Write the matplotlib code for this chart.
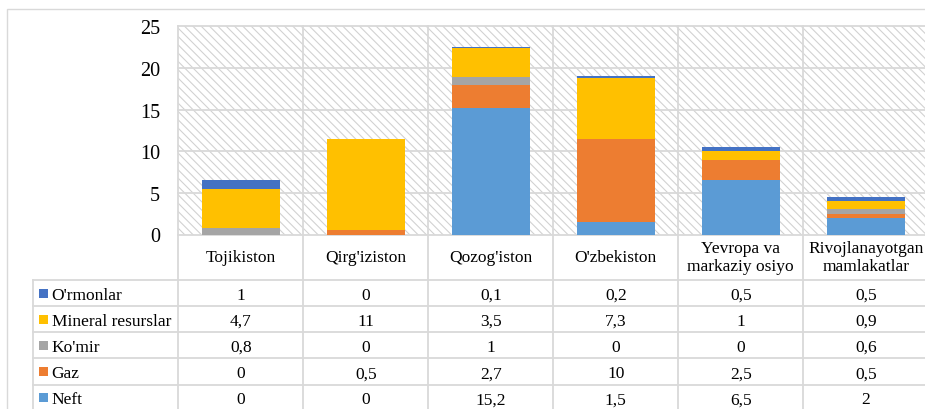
import matplotlib
matplotlib.use('Agg')
import matplotlib.pyplot as plt
from matplotlib.patches import Rectangle
from matplotlib.lines import Line2D
from matplotlib.transforms import blended_transform_factory
import numpy as np

categories = ["Tojikiston", "Qirg'iziston", "Qozog'iston", "O'zbekiston",
              "Yevropa va\nmarkaziy osiyo", "Rivojlanayotgan\nmamlakatlar"]
series_names = ["Neft", "Gaz", "Ko'mir", "Mineral resurslar", "O'rmonlar"]
neft = [0, 0, 15.2, 1.5, 6.5, 2]
gaz = [0, 0.5, 2.7, 10, 2.5, 0.5]
komir = [0.8, 0, 1, 0, 0, 0.6]
mineral = [4.7, 11, 3.5, 7.3, 1, 0.9]
ormonlar = [1, 0, 0.1, 0.2, 0.5, 0.5]
series_values = [neft, gaz, komir, mineral, ormonlar]
colors = ['#5B9BD5', '#ED7D31', '#A5A5A5', '#FFC000', '#4472C4']
y_ticks = [0, 5, 10, 15, 20, 25]

plt.rcParams['font.family'] = ['Liberation Serif', 'DejaVu Serif']
plt.rcParams['hatch.linewidth'] = 0.8

W, H = 925, 410
fig = plt.figure(figsize=(W / 100, H / 100), dpi=100)


def fx(px):
    return px / W


def fy(py):
    return 1 - py / H


grid_c = '#d9d9d9'
top_px, zero_px, left_px = 27.3, 235.5, 178.3
cat_w = 125.0
ax = fig.add_axes([fx(left_px), fy(zero_px), len(categories) * cat_w / W,
                   (zero_px - top_px) / H])
ax.set_xlim(-0.5, len(categories) - 0.5)
ax.set_ylim(0, 25)
for s in ax.spines.values():
    s.set_visible(False)
ax.set_xticks([])
ax.set_yticks(y_ticks)
ax.tick_params(axis='y', length=0, pad=13, labelsize=14.5, colors='black')

# hatched plot background
ax.add_patch(Rectangle((0, 0), 1, 1, transform=ax.transAxes, facecolor='white',
                       edgecolor='#d2d2d2', hatch='\\\\\\\\', lw=0, zorder=0.1))
for t in y_ticks:
    ax.axhline(t, color=grid_c, lw=1.3, zorder=1, clip_on=False)

x = np.arange(len(categories))
bottom = np.zeros(len(categories))
for vals, c in zip(series_values, colors):
    ax.bar(x, vals, width=0.62, bottom=bottom, color=c, zorder=3, lw=0)
    bottom += np.array(vals)

# outer chart border
fig.add_artist(Rectangle((fx(7), fy(420)), fx(940) - fx(7), fy(10) - fy(420),
                         transform=fig.transFigure, fill=False, ec=grid_c, lw=1))

bt = blended_transform_factory(ax.transData, fig.transFigure)

# vertical category lines through plot and table
for k in range(len(categories) + 1):
    fig.add_artist(Line2D([k - 0.5, k - 0.5], [fy(top_px), fy(415)], transform=bt,
                          color=grid_c, lw=1.3, zorder=2))

# table
row_lines = [281, 307.3, 333.3, 359.3, 385.7, 411.5]
table_left = 33.3
for yl in row_lines:
    fig.add_artist(Line2D([fx(table_left), fx(940)], [fy(yl), fy(yl)],
                          transform=fig.transFigure, color=grid_c, lw=1.3))
fig.add_artist(Line2D([fx(table_left), fx(table_left)], [fy(281), fy(415)],
                      transform=fig.transFigure, color=grid_c, lw=1.3))

fs = 12.5
em = fs * 100 / 72
for i, cat in enumerate(categories):
    fig.text(i, fy(258), cat, transform=bt, ha='center', va='center', fontsize=fs,
             linespacing=1.2, color='black')


def fmt(v):
    return ('%g' % v).replace('.', ',')


rows = list(zip(series_names, series_values, colors))[::-1]
for r, (name, vals, c) in enumerate(rows):
    yc = (row_lines[r] + row_lines[r + 1]) / 2
    base = yc + 0.33 * em
    fig.add_artist(Rectangle((fx(39.3), fy(yc + 4.5)), fx(9), 9 / H,
                             transform=fig.transFigure, color=c, lw=0))
    fig.text(fx(51.5), fy(base), name, ha='left', va='baseline', fontsize=fs,
             color='black')
    for i, v in enumerate(vals):
        fig.text(i, fy(base), fmt(v), transform=bt, ha='center', va='baseline',
                 fontsize=fs, color='black')

fig.savefig('out.png', dpi=100)
